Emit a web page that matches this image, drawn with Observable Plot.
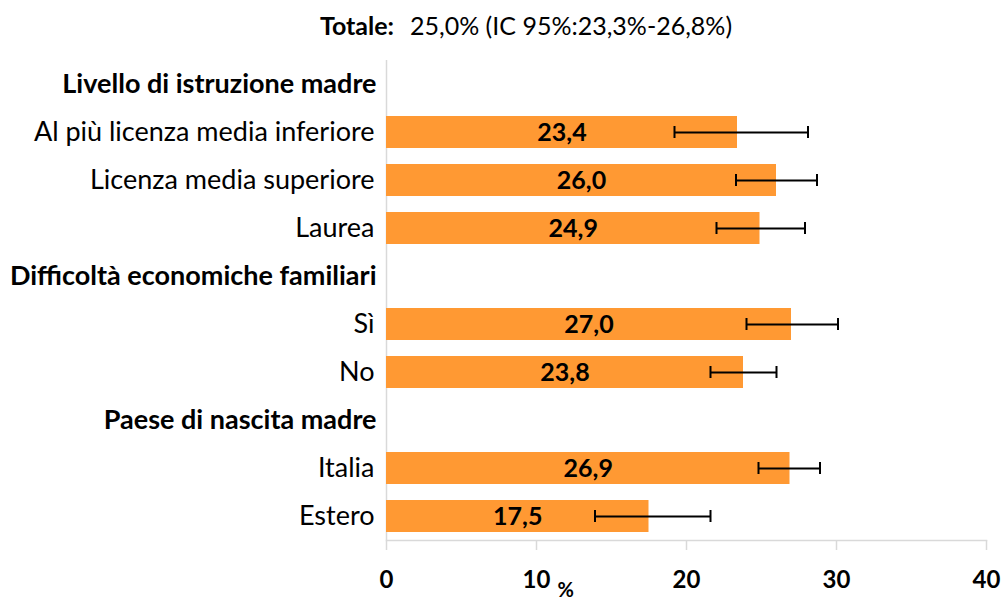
<!DOCTYPE html>
<html>
<head>
<meta charset="utf-8">
<script src="https://cdn.jsdelivr.net/npm/d3@7"></script>
<script src="https://cdn.jsdelivr.net/npm/@observablehq/plot@0.6"></script>
<style>
  html, body { margin: 0; padding: 0; background: #fff; }
  body { width: 1002px; height: 603px; overflow: hidden; font-family: Lato, "Open Sans", sans-serif; }
  #title { height: 45px; line-height: 50px; font-size: 25px; color: #000; text-align: center; padding-left: 50px; box-sizing: border-box; white-space: nowrap; }
  #title b { margin-right: 16px; }
</style>
</head>
<body>
<div id="title"><b>Totale:</b>25,0% (IC 95%:23,3%-26,8%)</div>
<div id="chart"></div>
<script>
// Rows, top to bottom (group headers have no value)
const categories = [
  "Livello di istruzione madre",
  "Al più licenza media inferiore",
  "Licenza media superiore",
  "Laurea",
  "Difficoltà economiche familiari",
  "Sì",
  "No",
  "Paese di nascita madre",
  "Italia",
  "Estero"
];
const headers = ["Livello di istruzione madre", "Difficoltà economiche familiari", "Paese di nascita madre"];
const barCategories = ["Al più licenza media inferiore", "Licenza media superiore", "Laurea", "Sì", "No", "Italia", "Estero"];
const values = [23.4, 26.0, 24.9, 27.0, 23.8, 26.9, 17.5];
const ciLow  = [19.2, 23.3, 22.0, 24.0, 21.6, 24.8, 13.9];
const ciHigh = [28.1, 28.7, 27.9, 30.1, 26.0, 28.9, 21.6];
const xTicks = [0, 10, 20, 30, 40];

const data = barCategories.map((c, i) => ({cat: c, value: values[i], lo: ciLow[i], hi: ciHigh[i]}));
const fmt = v => v.toFixed(1).replace(".", ",");

const chart = Plot.plot({
  width: 1002,
  height: 558,
  marginLeft: 386,
  marginRight: 16,
  marginTop: 15,
  marginBottom: 63,
  style: {fontFamily: "Lato, 'Open Sans', sans-serif", color: "#000", background: "#fff"},
  x: {domain: [0, 40], ticks: xTicks},
  y: {domain: categories, paddingInner: 0.33, paddingOuter: 0.165},
  marks: [
    Plot.ruleX([0], {stroke: "#d9d9d9", strokeWidth: 1.5}),
    Plot.frame({anchor: "bottom", stroke: "#d9d9d9", strokeWidth: 1.5}),
    Plot.barX(data, {y: "cat", x: "value", fill: "#ff9933"}),
    Plot.text(data, {y: "cat", x: d => d.value / 2, text: d => fmt(d.value), fontWeight: "bold", fontSize: 25, fill: "#000"}),
    Plot.ruleY(data, {y: "cat", x1: "lo", x2: "hi", stroke: "#000", strokeWidth: 2}),
    Plot.tickX(data, {y: "cat", x: "lo", stroke: "#000", strokeWidth: 2, insetTop: 10, insetBottom: 10}),
    Plot.tickX(data, {y: "cat", x: "hi", stroke: "#000", strokeWidth: 2, insetTop: 10, insetBottom: 10}),
    Plot.axisY({ticks: headers, tickSize: 0, tickPadding: 10, fontWeight: "bold", fontSize: 27, label: null}),
    Plot.axisY({ticks: barCategories, tickSize: 0, tickPadding: 12, fontSize: 27, label: null}),
    Plot.axisX({ticks: xTicks, tickSize: 10, tickPadding: 20, stroke: "#d9d9d9", strokeWidth: 1.5, fontWeight: "bold", fontSize: 24, label: null, tickFormat: d => String(d)}),
    Plot.text(["%"], {frameAnchor: "bottom-left", dx: 171, dy: 56, fontWeight: "bold", fontSize: 20, fill: "#000"})
  ]
});
chart.style.overflow = "visible";
document.getElementById("chart").appendChild(chart);
</script>
</body>
</html>
